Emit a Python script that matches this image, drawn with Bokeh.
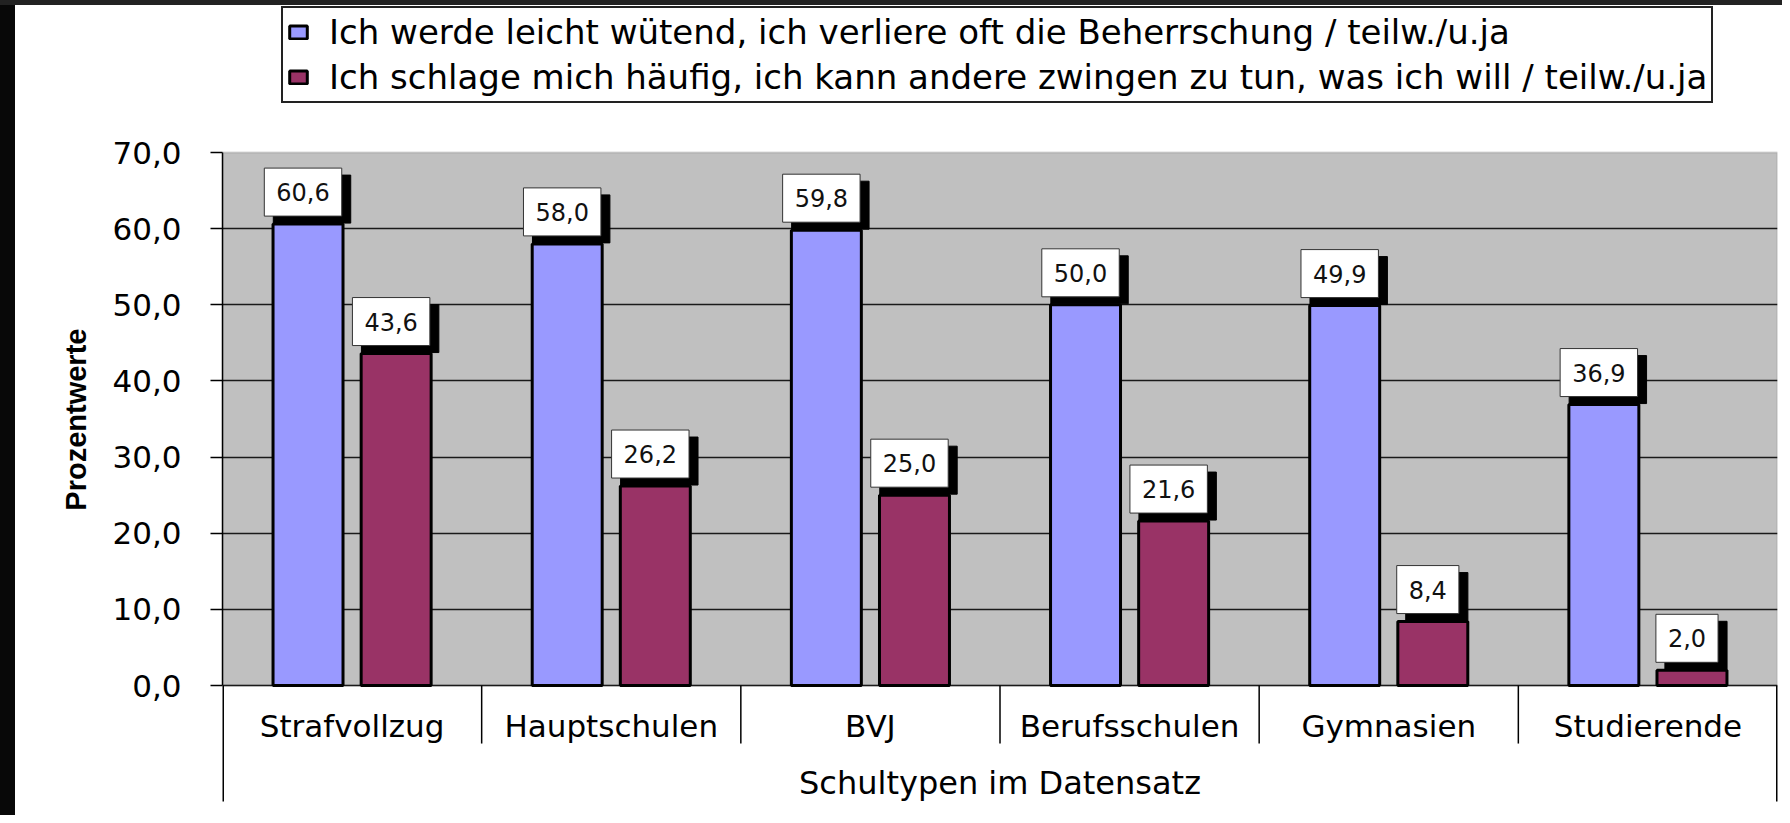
import math
from bokeh.plotting import figure
from bokeh.layouts import row, column
from bokeh.models import (Range1d, FixedTicker, BoxAnnotation, Legend,
                          LegendItem, ColumnDataSource, Div)
from bokeh.core.properties import value
from bokeh.embed import file_html
from bokeh.resources import INLINE

# ---------------- data ----------------
categories = ["Strafvollzug", "Hauptschulen", "BVJ", "Berufsschulen", "Gymnasien", "Studierende"]
series_names = [
    "Ich werde leicht wütend, ich verliere oft die Beherrschung / teilw./u.ja",
    "Ich schlage mich häufig, ich kann andere zwingen zu tun, was ich will / teilw./u.ja",
]
wuetend = [60.6, 58.0, 59.8, 50.0, 49.9, 36.9]
schlage = [43.6, 26.2, 25.0, 21.6, 8.4, 2.0]
y_ticks = [0, 10, 20, 30, 40, 50, 60, 70]
y_tick_labels = ["0,0", "10,0", "20,0", "30,0", "40,0", "50,0", "60,0", "70,0"]
x_title = "Schultypen im Datensatz"
y_title = "Prozentwerte"

# ---------------- style ----------------
BLUE = "#9999FF"
MAROON = "#993366"
GREY = "#C0C0C0"
FONT = "DejaVu Sans"
TOTAL_W, TOTAL_H = 1782, 815
EDGE_L, EDGE_T = 15, 5
W, H = TOTAL_W - EDGE_L, TOTAL_H - EDGE_T
Y_MIN = -15.23
Y_MAX = 89.31
OFF = 0.17
BAR_W = 0.27


def fmt(v):
    return f"{v:.1f}".replace(".", ",")


n = len(categories)
src = ColumnDataSource(dict(
    x1=[i + 0.5 - OFF for i in range(n)],
    x2=[i + 0.5 + OFF for i in range(n)],
    y1=wuetend, y2=schlage,
    l1=[fmt(v) for v in wuetend], l2=[fmt(v) for v in schlage],
))

p = figure(width=W, height=H, x_range=Range1d(0, n), y_range=Range1d(Y_MIN, Y_MAX),
           output_backend="svg", toolbar_location=None, x_axis_location=None,
           min_border_left=222 - EDGE_L, min_border_right=5, min_border_top=0,
           min_border_bottom=14,
           background_fill_color="white", border_fill_color="white", outline_line_color=None)

# grey plot area (0..70)
p.add_layout(BoxAnnotation(bottom=0, top=y_ticks[-1], fill_color=GREY, fill_alpha=1,
                           line_color="#808080", line_width=2, level="image"))

p.xgrid.visible = False
p.ygrid.ticker = FixedTicker(ticks=y_ticks[:-1])
p.ygrid.grid_line_color = "#1a1a1a"
p.ygrid.grid_line_width = 1.5

ax = p.yaxis[0]
ax.ticker = FixedTicker(ticks=y_ticks)
ax.bounds = (0, y_ticks[-1])
ax.major_label_overrides = {t: s for t, s in zip(y_ticks, y_tick_labels)}
ax.major_label_text_font = FONT
ax.major_label_text_font_size = "31px"
ax.major_label_text_color = "black"
ax.major_label_standoff = 29
ax.major_tick_out = 12
ax.major_tick_in = 0
ax.minor_tick_line_color = None
ax.major_tick_line_color = "black"
ax.major_tick_line_width = 1.5
ax.axis_line_color = "black"
ax.axis_line_width = 1.5
# trailing no-break spaces move the visible title down to the centre of the 0..70 span
ax.axis_label = y_title + "\u00a0" * 4
ax.axis_label_text_font = "Liberation Sans Narrow, Liberation Sans"
ax.axis_label_text_font_style = "bold"
ax.axis_label_text_font_size = "29px"
ax.axis_label_text_color = "black"
ax.axis_label_standoff = 17

# bars
r1 = p.vbar(x="x1", top="y1", bottom=0, width=BAR_W, source=src,
            fill_color=BLUE, line_color="black", line_width=3)
r2 = p.vbar(x="x2", top="y2", bottom=0, width=BAR_W, source=src,
            fill_color=MAROON, line_color="black", line_width=3)

# data labels with shadow
pad = dict(left=12, right=12, top=15, bottom=15)
for xc, yc, lc in (("x1", "y1", "l1"), ("x2", "y2", "l2")):
    p.text(x=xc, y=yc, text=lc, source=src, anchor="bottom_center",
           text_align="center", text_baseline="middle",
           x_offset=4, y_offset=-1, text_color="black",
           text_font=value(FONT), text_font_size="24px",
           background_fill_color="black", border_line_color="black", padding=pad)
    p.text(x=xc, y=yc, text=lc, source=src, anchor="bottom_center",
           text_align="center", text_baseline="middle",
           x_offset=-5, y_offset=-8, text_color="#111111",
           text_font=value(FONT), text_font_size="24px",
           background_fill_color="white", border_line_color="#333333",
           border_line_width=1, padding=pad)

# category separators below the axis, and the outer edges
p.ray(x=list(range(1, n)), y=[0] * (n - 1), length=58, length_units="screen",
      angle=-math.pi / 2, line_color="black", line_width=1.5)
p.ray(x=[0, n], y=[0, 0], length=120, length_units="screen",
      angle=-math.pi / 2, line_color="black", line_width=3)

# category labels and axis title
p.text(x=[i + 0.5 for i in range(n)], y=[0] * n, text=categories, y_offset=40,
       text_align="center", text_baseline="middle", text_color="black",
       text_font=value(FONT), text_font_size="31px")
p.text(x=[n / 2], y=[0], text=[x_title], y_offset=97,
       text_align="center", text_baseline="middle", text_color="black",
       text_font=value(FONT), text_font_size="32px")

# legend (inside the extended frame, above the grey area)
legend = Legend(items=[LegendItem(label=series_names[0], renderers=[r1]),
                       LegendItem(label=series_names[1], renderers=[r2])],
                location=(59, 698), orientation="vertical", padding=4, spacing=5,
                label_height=40, glyph_width=22, glyph_height=16, label_standoff=20,
                border_line_color="#222222", border_line_width=2, border_line_alpha=1,
                background_fill_color="white", background_fill_alpha=1,
                label_text_font=FONT, label_text_font_size="34px",
                label_text_color="black", margin=0)
p.add_layout(legend, "center")

# dark picture frame: strip on top and on the left
top_strip = Div(text="", width=TOTAL_W, height=EDGE_T, margin=0,
                styles={"background-color": "#222222"})
left_strip = Div(text="", width=EDGE_L, height=H, margin=0,
                 styles={"background-color": "#080808"})
page = column(top_strip, row(left_strip, p, spacing=0), spacing=0)

open("out.html", "w").write(file_html(page, INLINE))
